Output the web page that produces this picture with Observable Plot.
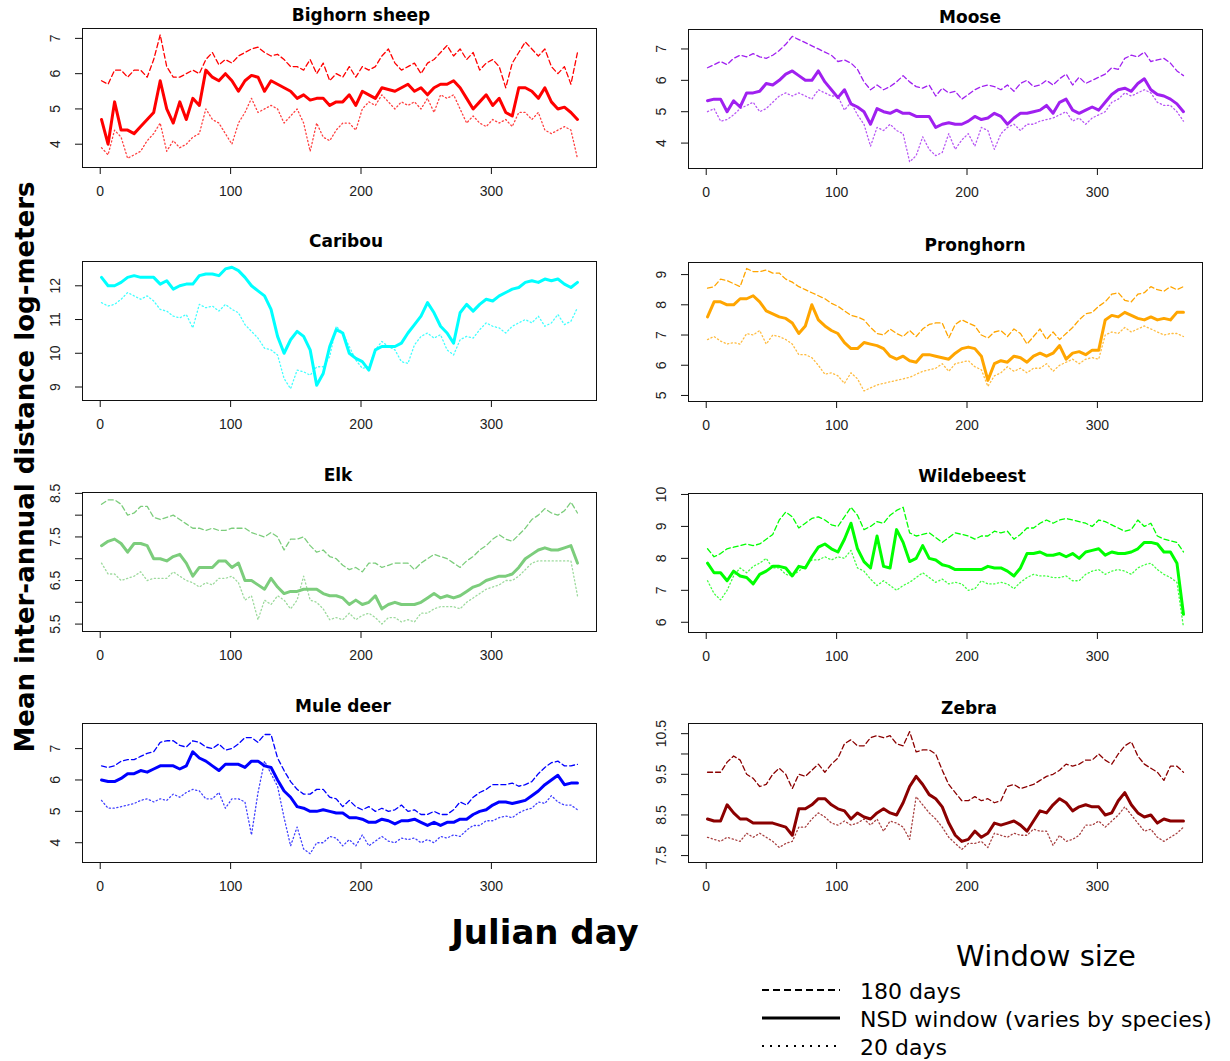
<!DOCTYPE html>
<html><head><meta charset="utf-8">
<script src="https://cdn.jsdelivr.net/npm/d3@7"></script>
<script src="https://cdn.jsdelivr.net/npm/@observablehq/plot@0.6"></script>
<style>
body{margin:0;background:#fff;}
#root{position:relative;width:1230px;height:1061px;overflow:hidden;background:#fff;font-family:"Liberation Sans",Arial,sans-serif;}
.panel{position:absolute;}
.ttl{position:absolute;font-family:"DejaVu Sans",Verdana,sans-serif;font-weight:bold;font-size:17px;transform:translate(-50%,-50%);white-space:nowrap;color:#000;}
.ytitle{position:absolute;left:25px;top:467px;transform:translate(-50%,-50%) rotate(-90deg);font-family:"DejaVu Sans",Verdana,sans-serif;font-weight:bold;font-size:26px;white-space:nowrap;}
.xtitle{position:absolute;left:545px;top:932px;transform:translate(-50%,-50%);font-family:"DejaVu Sans",Verdana,sans-serif;font-weight:bold;font-size:34px;white-space:nowrap;}
.legtitle{position:absolute;left:1046px;top:956px;transform:translate(-50%,-50%);font-family:"DejaVu Sans",Verdana,sans-serif;font-size:29px;white-space:nowrap;}
.legitem{position:absolute;left:860px;transform:translate(0,-50%);font-family:"DejaVu Sans",Verdana,sans-serif;font-size:22px;white-space:nowrap;}
</style></head>
<body><div id="root"></div>
<script>
const days = [1,6,11,16,21,26,31,36,41,46,51,56,61,66,71,76,81,86,91,96,101,106,111,116,121,126,131,136,141,146,151,156,161,166,171,176,181,186,191,196,201,206,211,216,221,226,231,236,241,246,251,256,261,266,271,276,281,286,291,296,301,306,311,316,321,326,331,336,341,346,351,356,361,366];

const species = ["Bighorn sheep","Moose","Caribou","Pronghorn","Elk","Wildebeest","Mule deer","Zebra"];
const windowLabels = ["180 days","NSD window (varies by species)","20 days"];
const xTicks = [0,100,200,300];

const bighorn180 = [5.8,5.7,6.1,6.1,5.9,6.1,6.1,5.9,6.4,7.1, 6.2,5.9,5.9,6.0,6.1,6.0,6.4,6.6,6.25,6.4, 6.3,6.5,6.6,6.7,6.75,6.6,6.5,6.55,6.4,6.2, 6.2,6.1,6.4,6.0,6.3,5.8,6.0,5.9,6.2,5.9, 6.2,6.1,6.2,6.5,6.7,6.3,6.1,6.2,6.3,6.0, 6.3,6.4,6.6,6.8,6.5,6.7,6.4,6.6,6.1,6.3, 6.4,6.2,5.6,6.3,6.6,6.9,6.7,6.5,6.7,6.2, 6.0,6.2,5.7,6.6];
const bighornNSD = [4.7,4.0,5.2,4.4,4.4,4.3,4.5,4.7,4.9,5.8, 5.0,4.6,5.2,4.7,5.3,5.1,6.1,5.9,5.8,6.0, 5.8,5.5,5.8,5.95,5.9,5.5,5.8,5.7,5.6,5.5, 5.3,5.4,5.25,5.3,5.3,5.1,5.2,5.2,5.4,5.1, 5.5,5.4,5.3,5.6,5.55,5.5,5.6,5.7,5.5,5.6, 5.4,5.6,5.7,5.7,5.8,5.6,5.3,5.0,5.2,5.4, 5.1,5.3,4.9,4.8,5.6,5.6,5.5,5.3,5.6,5.2, 5.0,5.05,4.9,4.7];
const bighorn20 = [3.9,3.7,4.4,4.2,3.6,3.7,3.8,4.1,4.3,4.6, 3.8,4.1,3.9,4.0,4.2,4.3,5.0,4.7,4.6,4.3, 4.0,4.6,4.9,5.3,4.9,5.0,5.1,5.0,4.6,4.8, 5.0,4.6,3.8,4.6,4.2,4.1,4.4,4.6,4.6,4.4, 5.0,5.2,5.1,5.4,5.2,5.0,5.2,5.1,5.2,5.0, 5.3,4.9,5.4,5.3,5.4,5.0,4.6,4.8,4.6,4.5, 4.7,4.6,4.7,4.5,4.9,4.9,4.7,4.9,4.4,4.3, 4.4,4.5,4.4,3.6];

const moose180 = [6.4,6.5,6.6,6.5,6.7,6.8,6.75,6.85,6.75,6.7, 6.8,6.95,7.15,7.4,7.3,7.2,7.1,7.0,6.9,6.8, 6.6,6.65,6.55,6.35,5.95,5.7,5.85,5.7,5.8,5.95, 6.15,5.95,5.8,5.75,5.85,5.5,5.75,5.6,5.65,5.4, 5.55,5.7,5.8,5.85,5.8,5.7,5.85,5.65,5.9,6.0, 5.8,5.85,6.0,5.85,6.05,6.2,5.85,6.1,5.9,6.0, 6.1,6.2,6.4,6.35,6.7,6.8,6.75,6.9,6.6,6.65, 6.7,6.55,6.3,6.15];
const mooseNSD = [5.35,5.4,5.4,5.0,5.35,5.15,5.6,5.6,5.65,5.9, 5.85,6.0,6.2,6.3,6.15,6.0,6.0,6.3,5.95,5.7, 5.45,5.7,5.25,5.15,5.0,4.6,5.1,5.0,4.95,5.05, 4.95,4.95,4.85,4.85,4.85,4.5,4.6,4.65,4.6,4.6, 4.7,4.85,4.75,4.8,4.95,4.85,4.6,4.8,4.95,4.95, 5.0,5.05,5.2,4.95,5.3,5.4,5.05,4.95,5.05,5.15, 5.05,5.3,5.55,5.7,5.75,5.65,5.9,6.05,5.7,5.55, 5.5,5.4,5.25,5.0];
const moose20 = [5.0,5.1,4.7,4.75,4.9,5.1,5.2,5.3,5.0,5.1, 5.3,5.5,5.6,5.5,5.6,5.5,5.4,5.7,5.6,5.5, 5.5,5.05,5.3,4.9,4.6,3.9,4.5,4.4,4.6,4.4, 4.3,3.4,3.6,4.2,3.8,3.6,3.7,4.3,3.8,4.1, 4.3,3.9,4.5,4.4,3.8,4.3,4.5,4.6,4.4,4.6, 4.6,4.7,4.75,4.8,4.9,5.0,4.7,4.8,4.6,4.8, 4.9,5.0,5.3,5.4,5.6,5.5,5.6,5.7,5.6,5.3, 5.2,5.2,5.0,4.7];

const caribouNSD = [12.25,12.0,12.0,12.1,12.25,12.3,12.25,12.25,12.25,12.05, 12.15,11.9,12.0,12.05,12.05,12.3,12.35,12.35,12.3,12.5, 12.55,12.45,12.25,12.0,11.85,11.7,11.3,10.5,10.0,10.4, 10.65,10.5,10.1,9.05,9.4,10.2,10.7,10.6,10.0,9.85, 9.75,9.5,10.1,10.2,10.2,10.2,10.3,10.6,10.85,11.1, 11.5,11.2,10.8,10.6,10.3,11.2,11.45,11.25,11.45,11.6, 11.55,11.7,11.8,11.9,11.95,12.1,12.15,12.1,12.2,12.15, 12.2,12.05,11.95,12.1];
const caribou20 = [11.5,11.4,11.45,11.6,11.8,11.7,11.6,11.7,11.55,11.3, 11.25,11.1,11.05,11.15,10.75,11.45,11.35,11.4,11.25,11.45, 11.3,11.2,10.85,10.65,10.45,10.15,10.1,9.95,9.25,8.95, 9.5,9.45,9.35,9.6,9.6,9.9,10.8,10.6,10.2,9.8, 9.55,9.6,10.1,10.35,10.2,10.1,9.75,9.7,10.25,10.5, 10.6,10.45,10.55,10.1,9.95,10.4,10.5,10.45,10.7,10.9, 10.8,10.75,10.6,10.8,10.9,11.0,10.9,11.1,10.8,10.9, 11.15,10.85,10.95,11.35];

const pronghorn180 = [8.55,8.6,8.85,8.8,8.7,8.6,9.2,9.1,9.1,9.15, 9.05,9.05,8.85,8.75,8.6,8.5,8.4,8.3,8.2,8.05, 7.95,7.8,7.65,7.6,7.5,7.25,7.05,7.0,7.2,7.05, 6.95,7.15,6.95,7.2,7.35,7.4,7.4,6.9,7.35,7.5, 7.4,7.3,7.0,6.9,7.1,7.15,6.95,7.2,7.05,6.7, 6.95,7.2,6.85,7.1,6.85,7.05,7.25,7.5,7.7,7.75, 7.95,8.1,8.35,8.4,8.15,8.1,8.35,8.4,8.6,8.5, 8.45,8.6,8.5,8.6];
const pronghornNSD = [7.6,8.1,8.1,8.0,8.0,8.2,8.2,8.3,8.1,7.8, 7.7,7.6,7.55,7.4,7.05,7.3,8.0,7.5,7.3,7.15, 7.05,6.75,6.55,6.55,6.75,6.7,6.65,6.55,6.3,6.2, 6.3,6.15,6.1,6.35,6.35,6.3,6.25,6.2,6.4,6.55, 6.6,6.55,6.3,5.5,6.05,6.15,6.1,6.3,6.25,6.1, 6.3,6.4,6.3,6.4,6.65,6.2,6.4,6.45,6.35,6.5, 6.5,7.5,7.65,7.6,7.75,7.65,7.55,7.5,7.6,7.5, 7.55,7.5,7.75,7.75];
const pronghorn20 = [6.85,6.95,6.8,6.7,6.75,6.7,7.05,7.0,7.15,6.7, 7.0,6.95,6.85,6.7,6.35,6.35,6.25,6.0,5.7,5.75, 5.65,5.4,5.75,5.55,5.15,5.25,5.35,5.4,5.45,5.5, 5.55,5.6,5.7,5.8,5.85,5.9,6.05,5.8,6.05,6.1, 6.15,5.95,5.85,5.3,5.65,5.75,5.95,5.8,5.9,5.75, 5.9,5.9,6.05,5.8,6.0,6.1,6.2,6.05,6.2,6.25, 6.2,7.0,7.1,7.05,7.25,7.1,7.2,7.3,7.2,7.1, 7.0,7.05,7.05,6.95];

const elk180 = [8.25,8.35,8.35,8.25,8.0,8.05,8.2,8.2,7.95,7.9, 7.95,8.0,7.9,7.8,7.7,7.7,7.65,7.7,7.65,7.65, 7.7,7.7,7.7,7.6,7.55,7.5,7.6,7.5,7.2,7.45, 7.45,7.5,7.3,7.15,7.2,7.05,7.0,6.85,6.75,6.8, 6.7,6.9,6.9,6.8,6.85,6.9,6.9,6.9,6.75,6.9, 7.0,7.1,7.05,7.0,6.9,6.8,6.95,7.05,7.2,7.3, 7.45,7.55,7.45,7.4,7.55,7.7,7.9,8.0,8.15,8.05, 8.0,8.1,8.3,8.05];
const elkNSD = [7.3,7.4,7.45,7.35,7.15,7.35,7.35,7.3,7.0,7.0, 6.95,7.05,7.1,6.9,6.6,6.8,6.8,6.8,6.95,6.95, 6.8,6.9,6.5,6.5,6.4,6.3,6.55,6.35,6.2,6.25, 6.25,6.3,6.3,6.3,6.2,6.15,6.15,6.1,5.95,6.05, 5.95,6.0,6.15,5.85,5.95,6.0,5.95,5.95,5.95,6.0, 6.1,6.2,6.1,6.15,6.1,6.15,6.25,6.35,6.4,6.5, 6.55,6.6,6.6,6.65,6.8,7.0,7.1,7.2,7.25,7.2, 7.2,7.25,7.3,6.9];
const elk20 = [6.9,6.65,6.65,6.5,6.55,6.6,6.7,6.5,6.55,6.55, 6.55,6.7,6.6,6.5,6.45,6.35,6.45,6.4,6.55,6.55, 6.6,6.45,6.05,6.15,5.6,6.05,5.95,6.15,6.05,5.85, 6.05,6.6,6.05,6.0,5.85,5.6,5.65,5.6,5.75,5.6, 5.7,5.75,5.65,5.5,5.65,5.65,5.55,5.6,5.55,5.75, 5.75,5.85,5.9,5.9,5.9,5.85,6.0,6.1,6.2,6.3, 6.35,6.4,6.5,6.5,6.6,6.75,6.9,6.95,6.95,6.95, 6.95,6.95,6.95,6.15];

const wildebeest180 = [8.3,8.05,8.15,8.3,8.35,8.4,8.45,8.4,8.45,8.6, 8.75,9.2,9.45,9.3,8.95,9.1,9.25,9.3,9.2,9.05, 9.0,9.3,9.6,9.35,8.9,9.0,9.15,9.1,9.35,9.5, 9.6,8.8,8.7,8.75,8.8,8.65,8.5,8.65,8.8,8.75, 8.7,8.6,8.7,8.7,8.85,8.8,8.85,8.6,8.75,8.95, 8.95,9.1,9.2,9.1,9.2,9.25,9.2,9.15,9.1,9.0, 9.2,9.15,9.05,8.95,8.85,8.9,9.2,9.0,9.1,8.7, 8.6,8.55,8.5,8.2];
const wildebeestNSD = [7.85,7.55,7.55,7.3,7.6,7.45,7.4,7.2,7.5,7.6, 7.75,7.75,7.7,7.45,7.75,7.7,8.05,8.35,8.45,8.3, 8.2,8.6,9.1,8.3,7.9,7.7,8.7,7.75,7.7,8.9, 8.5,7.9,8.0,8.4,8.0,7.95,7.8,7.75,7.65,7.65, 7.65,7.65,7.65,7.75,7.7,7.7,7.6,7.45,7.7,8.15, 8.15,8.2,8.1,8.1,8.15,8.05,8.15,8.0,8.2,8.25, 8.3,8.1,8.2,8.15,8.15,8.2,8.3,8.5,8.5,8.45, 8.2,8.2,7.85,6.25];
const wildebeest20 = [7.3,6.9,6.7,7.0,7.45,7.7,7.55,7.75,7.85,8.0, 7.7,7.7,7.5,7.45,7.6,7.75,7.95,7.95,8.05,7.95, 8.05,8.0,8.25,7.7,7.6,7.35,7.15,7.3,7.15,7.0, 7.15,7.25,7.4,7.55,7.4,7.25,7.35,7.2,7.25,7.2, 7.0,7.05,7.3,7.2,7.2,7.25,7.2,7.05,7.25,7.4, 7.5,7.45,7.45,7.4,7.4,7.45,7.3,7.3,7.5,7.6, 7.65,7.5,7.6,7.65,7.6,7.5,7.7,7.8,7.85,7.65, 7.5,7.4,7.25,5.85];

const mule180 = [6.45,6.4,6.45,6.6,6.65,6.65,6.75,6.85,6.9,7.2, 7.25,7.25,7.1,7.05,7.25,7.2,7.05,7.0,7.15,6.95, 7.0,7.15,7.35,7.35,7.2,7.45,7.45,6.7,6.3,5.95, 5.7,5.55,5.55,5.7,5.7,5.45,5.4,5.15,5.35,5.15, 5.05,5.15,5.0,5.1,5.0,5.05,5.2,5.0,5.05,4.9, 4.9,5.0,4.9,4.9,5.05,5.3,5.2,5.45,5.6,5.7, 5.85,5.85,5.85,5.9,5.8,5.85,5.95,6.2,6.4,6.55, 6.6,6.45,6.45,6.5];
const muleNSD = [6.0,5.95,5.95,6.05,6.2,6.2,6.3,6.25,6.35,6.45, 6.45,6.45,6.35,6.45,6.9,6.7,6.6,6.45,6.3,6.5, 6.5,6.5,6.4,6.6,6.6,6.45,6.4,6.0,5.65,5.45, 5.15,5.1,5.0,5.0,5.05,5.0,4.95,4.95,4.8,4.8, 4.75,4.65,4.65,4.75,4.7,4.6,4.7,4.7,4.75,4.65, 4.55,4.65,4.55,4.65,4.65,4.75,4.75,4.9,5.0,5.05, 5.2,5.3,5.3,5.25,5.3,5.35,5.5,5.65,5.85,6.0, 6.15,5.85,5.9,5.9];
const mule20 = [5.35,5.1,5.1,5.15,5.2,5.25,5.35,5.4,5.3,5.4, 5.35,5.55,5.45,5.6,5.7,5.65,5.4,5.4,5.6,5.1, 5.4,5.4,5.3,4.25,5.6,6.6,6.2,5.8,4.8,3.9, 4.5,3.8,3.65,4.0,4.0,4.2,4.15,3.9,4.1,3.9, 4.25,3.9,4.05,4.2,4.05,4.0,4.15,4.1,4.15,4.0, 4.1,4.0,4.2,4.15,4.25,4.2,4.4,4.55,4.55,4.7, 4.7,4.8,4.85,4.8,4.95,5.05,5.1,5.3,5.25,5.5, 5.3,5.2,5.2,5.05];

const zebra180 = [9.55,9.55,9.55,9.8,9.95,9.85,9.5,9.4,9.2,9.25, 9.5,9.65,9.5,9.15,9.5,9.45,9.6,9.75,9.55,9.75, 9.9,10.25,10.35,10.2,10.2,10.4,10.45,10.4,10.45,10.25, 10.2,10.55,10.05,10.1,10.1,10.0,9.6,9.25,9.05,8.85, 8.85,8.95,8.85,8.9,8.8,8.85,9.2,9.25,9.15,9.2, 9.25,9.35,9.45,9.5,9.6,9.75,9.7,9.75,9.85,9.85, 10.0,9.85,9.75,10.0,10.2,10.3,9.95,9.75,9.65,9.55, 9.35,9.7,9.7,9.55];
const zebraNSD = [8.4,8.35,8.35,8.75,8.55,8.4,8.4,8.3,8.3,8.3, 8.3,8.25,8.2,8.0,8.65,8.65,8.75,8.9,8.9,8.75, 8.65,8.6,8.4,8.55,8.45,8.4,8.55,8.65,8.55,8.5, 8.8,9.2,9.45,9.25,9.0,8.9,8.7,8.3,8.0,7.85, 7.9,8.1,7.95,8.05,8.3,8.25,8.3,8.35,8.25,8.1, 8.35,8.6,8.55,8.75,8.9,8.8,8.6,8.7,8.75,8.7, 8.7,8.5,8.55,8.85,9.05,8.75,8.55,8.45,8.5,8.3, 8.4,8.35,8.35,8.35];
const zebra20 = [7.95,7.9,7.85,7.95,7.9,7.85,8.05,7.95,8.05,7.95, 7.85,7.7,7.8,7.85,8.2,8.2,8.4,8.55,8.45,8.3, 8.25,8.35,8.25,8.3,8.4,8.25,8.4,8.1,8.35,8.3, 8.2,7.9,8.95,8.75,8.55,8.4,8.2,7.95,7.8,7.65, 7.8,7.8,7.85,7.7,8.05,8.0,7.95,8.05,8.0,8.0, 8.15,8.1,8.1,7.75,8.0,7.85,7.9,8.0,8.25,8.25, 8.35,8.2,8.35,8.5,8.7,8.5,8.3,8.1,8.15,7.95, 7.85,7.95,8.05,8.2];

// y-axis ticks and labelled ticks per panel
const yTicks = [[4,5,6,7],[4,5,6,7],[9,10,11,12],[5,6,7,8,9],[5.5,6,6.5,7,7.5,8,8.5],[6,7,8,9,10],[4,5,6,7],[7.5,8,8.5,9,9.5,10,10.5]];
const yLabels = [[4,5,6,7],[4,5,6,7],[9,10,11,12],[5,6,7,8,9],[5.5,6.5,7.5,8.5],[6,7,8,9,10],[4,5,6,7],[7.5,8.5,9.5,10.5]];

// ---- Options built from the arrays above ----
const series = [
  [bighorn180, bighornNSD, bighorn20],
  [moose180, mooseNSD, moose20],
  [null, caribouNSD, caribou20],
  [pronghorn180, pronghornNSD, pronghorn20],
  [elk180, elkNSD, elk20],
  [wildebeest180, wildebeestNSD, wildebeest20],
  [mule180, muleNSD, mule20],
  [zebra180, zebraNSD, zebra20]
];
const colors = ["#FF0000","#A020F0","#00FFFF","#FFA500","#7CCD7C","#00FF00","#0000FF","#8B0000"];
const yDomains = [[3.34,7.28],[3.19,7.62],[8.6,12.72],[4.8,9.4],[5.33,8.52],[5.68,10.03],[3.37,7.8],[7.33,10.75]];
const xDomain = [-13.6, 380.6];

// layout: plot-box left/top, title centre
const boxes = [[82,28],[688,29],[82,261],[688,262],[82,492],[688,493],[82,723],[688,723]];
const titlePos = [[361,15],[970,17],[346,241],[975,245],[338,475],[972,476],[343,706],[969,708]];

const root = document.getElementById("root");
const W = 514, H = 139, ML = 50, MR = 2, MT = 1, MB = 40;

species.forEach((name, i) => {
  const [s180, sNSD, s20] = series[i];
  const rows = days.map((d, j) => ({day: d, v180: s180 ? s180[j] : NaN, nsd: sNSD[j], v20: s20[j]}));
  const c = colors[i];
  const marks = [];
  if (s180) marks.push(Plot.lineY(rows, {x: "day", y: "v180", stroke: c, strokeWidth: 1.3, strokeDasharray: "5,3"}));
  marks.push(Plot.lineY(rows, {x: "day", y: "v20", stroke: c, strokeWidth: 1.3, strokeDasharray: "1.2,2.6", strokeOpacity: 0.75}));
  marks.push(Plot.lineY(rows, {x: "day", y: "nsd", stroke: c, strokeWidth: 3, strokeLinejoin: "round"}));
  marks.push(Plot.frame({stroke: "#111", strokeWidth: 1}));
  marks.push(Plot.axisX({ticks: xTicks, tickSize: 7, tickPadding: 12, label: null, fontSize: 14, stroke: "#111", fill: "#222"}));
  marks.push(Plot.axisY({ticks: yTicks[i], tickSize: 7, fill: "none", label: null, stroke: "#111"}));
  marks.push(Plot.text(yLabels[i], {y: d => d, text: d => String(d), frameAnchor: "left", dx: -27, rotate: -90, textAnchor: "middle", lineAnchor: "middle", fontSize: 14, fill: "#222"}));
  const svg = Plot.plot({
    width: W + ML + MR, height: H + MT + MB,
    marginLeft: ML, marginRight: MR, marginTop: MT, marginBottom: MB,
    x: {domain: xDomain}, y: {domain: yDomains[i]},
    style: {fontFamily: "'Liberation Sans', Arial, sans-serif", fontSize: "14px", background: "transparent", overflow: "visible"},
    marks
  });
  const div = document.createElement("div");
  div.className = "panel";
  div.style.left = (boxes[i][0] - ML) + "px";
  div.style.top = (boxes[i][1] - MT) + "px";
  div.appendChild(svg);
  root.appendChild(div);
  const t = document.createElement("div");
  t.className = "ttl";
  t.style.left = titlePos[i][0] + "px";
  t.style.top = titlePos[i][1] + "px";
  t.textContent = name;
  root.appendChild(t);
});

// axis titles
const yt = document.createElement("div"); yt.className = "ytitle"; yt.textContent = "Mean inter-annual distance log-meters"; root.appendChild(yt);
const xt = document.createElement("div"); xt.className = "xtitle"; xt.textContent = "Julian day"; root.appendChild(xt);

// legend
const lt = document.createElement("div"); lt.className = "legtitle"; lt.textContent = "Window size"; root.appendChild(lt);
const legY = [990, 1018, 1046];
const dash = ["7,4", null, "2,6"];
const lw = [2, 3, 2];
const ns = "http://www.w3.org/2000/svg";
const lsvg = document.createElementNS(ns, "svg");
lsvg.setAttribute("width", 1230); lsvg.setAttribute("height", 1061);
lsvg.style.position = "absolute"; lsvg.style.left = "0"; lsvg.style.top = "0"; lsvg.style.pointerEvents = "none";
windowLabels.forEach((lab, k) => {
  const ln = document.createElementNS(ns, "line");
  ln.setAttribute("x1", 762); ln.setAttribute("x2", 840);
  ln.setAttribute("y1", legY[k]); ln.setAttribute("y2", legY[k]);
  ln.setAttribute("stroke", "#000"); ln.setAttribute("stroke-width", lw[k]);
  if (dash[k]) ln.setAttribute("stroke-dasharray", dash[k]);
  lsvg.appendChild(ln);
  const tx = document.createElement("div");
  tx.className = "legitem"; tx.style.top = (legY[k] + 1) + "px"; tx.textContent = lab;
  root.appendChild(tx);
});
root.appendChild(lsvg);
</script>
</body></html>
